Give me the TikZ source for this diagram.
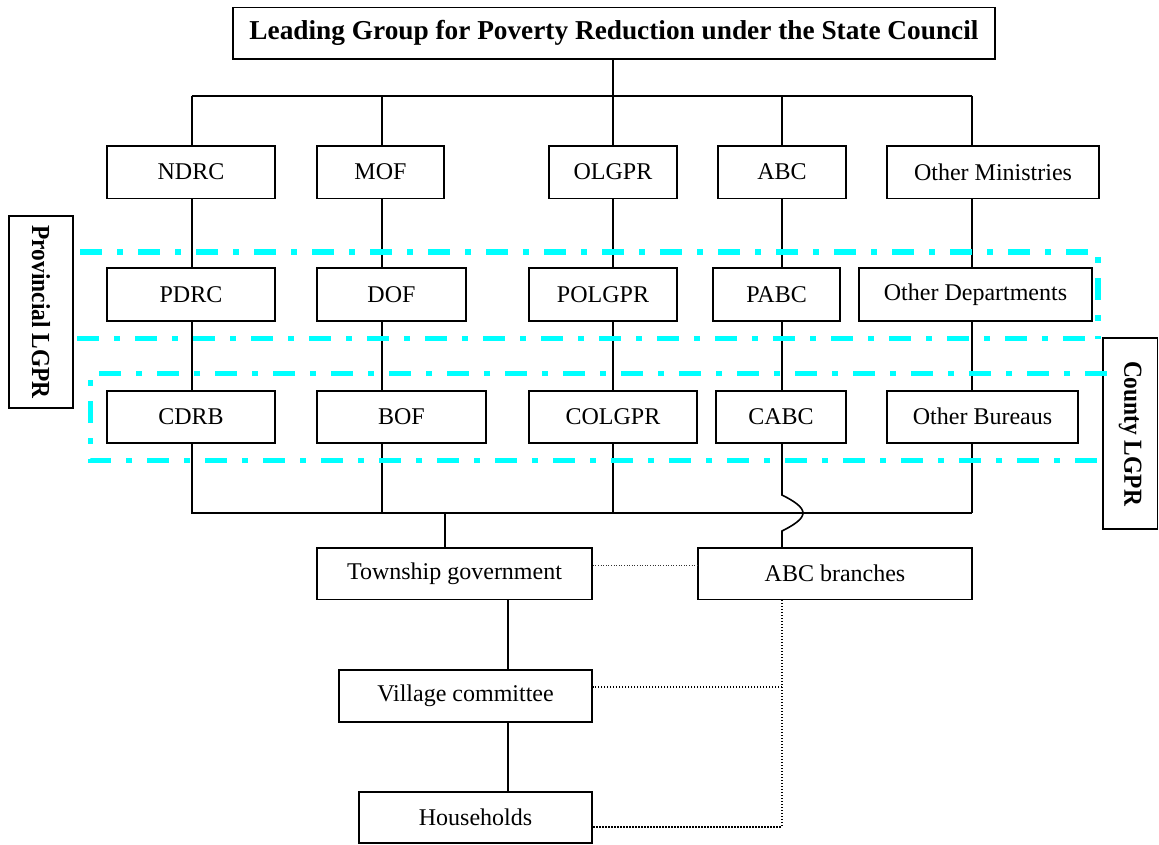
\documentclass[tikz,border=0pt]{standalone}
\usepackage{fontspec}
\setmainfont{Liberation Serif}
\usepackage{graphicx}
\definecolor{aqua}{RGB}{0,255,255}
\begin{document}
\begin{tikzpicture}[x=1pt,y=-1pt,
  box/.style={draw, line width=1.6pt, inner sep=0pt, font=\fontsize{24}{28}\selectfont},
  conn/.style={line width=1.6pt},
  dotA/.style={line width=1pt, dash pattern=on 1pt off 1.6pt, black!80},
  dotB/.style={line width=1.6pt, dash pattern=on 1.2pt off 1.8pt},
  cy/.style={aqua, line width=5.3pt, dash pattern=on 22pt off 15pt on 6pt off 15pt},
  lblbox/.style={draw, line width=1.6pt, inner sep=0pt, font=\fontsize{26}{30}\selectfont\bfseries}]
\useasboundingbox (0,0) rectangle (1159,844);

% title
\node[box, minimum width=762pt, minimum height=51.7pt, font=\fontsize{27.3}{31}\selectfont\bfseries] (title) at (614,33.15) {Leading Group for Poverty Reduction under the State Council};

% row 1
\node[box, minimum width=168pt, minimum height=52.3pt] (ndrc) at (191,172.15) {NDRC};
\node[box, minimum width=127pt, minimum height=52.3pt] (mof) at (380.5,172.15) {MOF};
\node[box, minimum width=128pt, minimum height=52.3pt] (olgpr) at (613,172.15) {OLGPR};
\node[box, minimum width=128pt, minimum height=52.3pt] (abc) at (782,172.15) {ABC};
\node[box, minimum width=212pt, minimum height=52.3pt] (othmin) at (993,172.15) {Other Ministries};

% row 2
\node[box, minimum width=168pt, minimum height=52.7pt] (pdrc) at (191,294.35) {PDRC};
\node[box, minimum width=149pt, minimum height=52.7pt] (dof) at (391.5,294.35) {DOF};
\node[box, minimum width=148pt, minimum height=52.7pt] (polgpr) at (603,294.35) {POLGPR\hspace{18pt}};
\node[box, minimum width=127pt, minimum height=52.7pt] (pabc) at (776.5,294.35) {PABC};
\node[box, minimum width=233pt, minimum height=52.7pt] (othdep) at (975.5,294.35) {Other Departments};

% row 3
\node[box, minimum width=168pt, minimum height=52pt] (cdrb) at (191,416.7) {CDRB};
\node[box, minimum width=169pt, minimum height=52pt] (bof) at (401.5,416.7) {BOF};
\node[box, minimum width=168pt, minimum height=52pt] (colgpr) at (613,416.7) {COLGPR};
\node[box, minimum width=130pt, minimum height=52pt] (cabc) at (781,416.7) {CABC};
\node[box, minimum width=191pt, minimum height=52pt] (othbur) at (982.5,416.7) {Other Bureaus\hspace{10pt}};

% lower boxes
\node[box, minimum width=275pt, minimum height=51.6pt] (town) at (454.5,573.5) {Township government};
\node[box, minimum width=274pt, minimum height=51.6pt] (abcb) at (835,573.5) {ABC branches};
\node[box, minimum width=253pt, minimum height=51.7pt] (village) at (465.5,695.85) {Village committee};
\node[box, minimum width=233pt, minimum height=51pt] (house) at (475.5,817.5) {Households};

% side labels
\node[lblbox, minimum width=64pt, minimum height=192pt] (prov) at (41,312) {\rotatebox{-90}{\scalebox{0.9}[1]{Provincial LGPR}}};
\node[lblbox, minimum width=54.5pt, minimum height=191pt] (county) at (1130.25,433.5) {\rotatebox{-90}{\scalebox{0.9}[1]{County LGPR}}};

% column coordinates
\coordinate (c1) at (191.7,0);
\coordinate (c2) at (381.7,0);
\coordinate (c3) at (613,0);
\coordinate (c4) at (782,0);
\coordinate (c5) at (972,0);
\coordinate (tb) at (0,95.7);
\coordinate (bb) at (0,512.7);
\coordinate (tc) at (445,0);
\coordinate (mc) at (507.7,0);

% top bus
\draw[conn] (c1 |- tb) -- (c5 |- tb);
\draw[conn] (title.south -| c3) -- (c3 |- tb);
\draw[conn] (c1 |- tb) -- (ndrc.north -| c1);
\draw[conn] (c2 |- tb) -- (mof.north -| c2);
\draw[conn] (c3 |- tb) -- (olgpr.north -| c3);
\draw[conn] (c4 |- tb) -- (abc.north -| c4);
\draw[conn] (c5 |- tb) -- (othmin.north -| c5);

% row1 -> row2
\draw[conn] (ndrc.south -| c1) -- (pdrc.north -| c1);
\draw[conn] (mof.south -| c2) -- (dof.north -| c2);
\draw[conn] (olgpr.south -| c3) -- (polgpr.north -| c3);
\draw[conn] (abc.south -| c4) -- (pabc.north -| c4);
\draw[conn] (othmin.south -| c5) -- (othdep.north -| c5);

% row2 -> row3
\draw[conn] (pdrc.south -| c1) -- (cdrb.north -| c1);
\draw[conn] (dof.south -| c2) -- (bof.north -| c2);
\draw[conn] (polgpr.south -| c3) -- (colgpr.north -| c3);
\draw[conn] (pabc.south -| c4) -- (cabc.north -| c4);
\draw[conn] (othdep.south -| c5) -- (othbur.north -| c5);

% row3 -> bottom bus
\draw[conn] (cdrb.south -| c1) -- (c1 |- bb) -- (c5 |- bb);
\draw[conn] (bof.south -| c2) -- (c2 |- bb);
\draw[conn] (colgpr.south -| c3) -- (c3 |- bb);
\draw[conn] (othbur.south -| c5) -- (c5 |- bb);
\draw[conn] (tc |- bb) -- (town.north -| tc);

% CABC -> ABC branches with bridge over the bus
\coordinate (j1) at (782,495);
\coordinate (j2) at (803,513);
\coordinate (j3) at (782,531);
\draw[conn] (cabc.south -| c4) -- (j1) .. controls (794,501) and (803,507) .. (j2) .. controls (803,519) and (794,525) .. (j3) -- (abcb.north -| c4);

% township -> village -> households
\draw[conn] (town.south -| mc) -- (village.north -| mc);
\draw[conn] (village.south -| mc) -- (house.north -| mc);

% dotted links
\coordinate (dA) at (0,565);
\coordinate (dV) at (0,686.7);
\coordinate (dH) at (0,826.7);
\draw[dotA] (town.east |- dA) -- (abcb.west |- dA);
\draw[dotB] (abcb.south -| c4) -- (c4 |- dH) -- (house.east |- dH);
\draw[dotB] (c4 |- dV) -- (village.east |- dV);

% cyan dash-dot frames
\draw[cy] (80,252) -- (1098,252) -- (1098,338.7);
\draw[cy] (77,338.7) -- (1096,338.7);
\draw[cy] (1107,373.7) -- (90.7,373.7) -- (90.7,460.7) -- (1107,460.7);
\end{tikzpicture}
\end{document}
